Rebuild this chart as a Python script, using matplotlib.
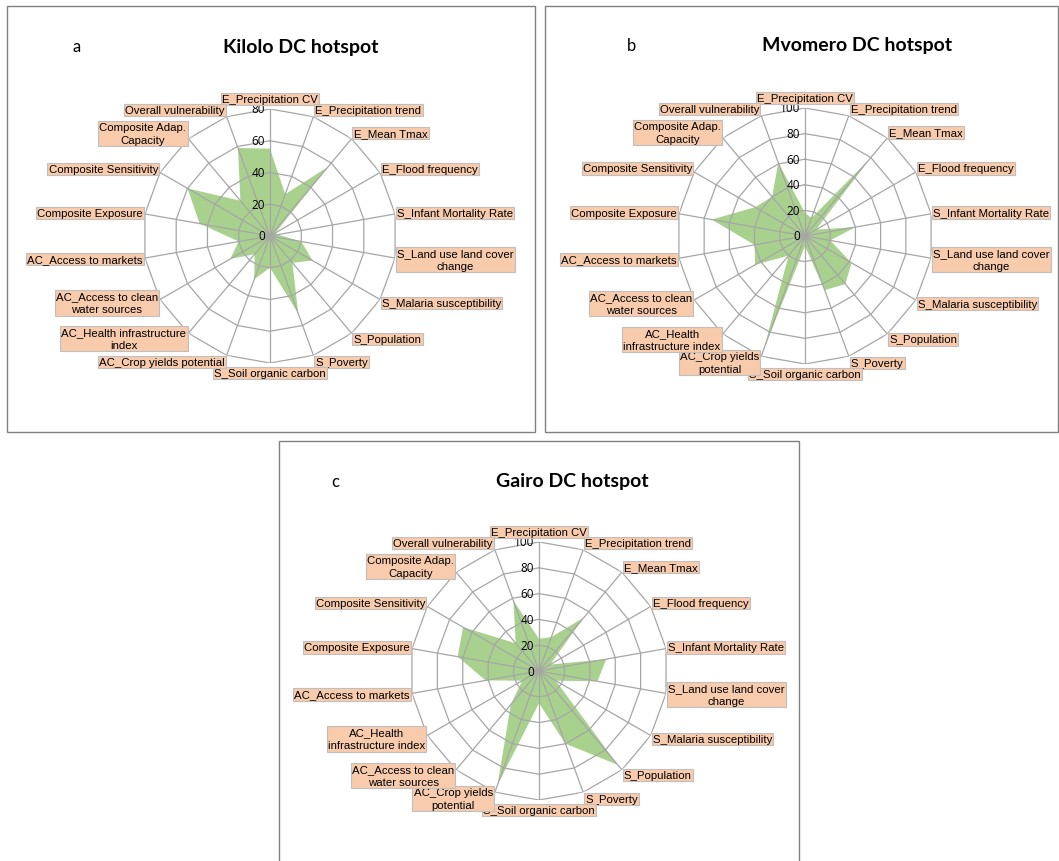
import numpy as np
import matplotlib.pyplot as plt
from matplotlib.patches import Rectangle

# Three radar (spider) charts of vulnerability indicators
W, H = 1059, 862

labels_a = ["E_Precipitation CV", "E_Precipitation trend", "E_Mean Tmax", "E_Flood frequency",
            "S_Infant Mortality Rate", "S_Land use land cover\nchange", "S_Malaria susceptibility",
            "S_Population", "S_Poverty", "S_Soil organic carbon", "AC_Crop yields potential",
            "AC_Health infrastructure\nindex", "AC_Access to clean\nwater sources", "AC_Access to markets",
            "Composite Exposure", "Composite Sensitivity", "Composite Adap.\nCapacity", "Overall vulnerability"]
labels_b = labels_a[:10] + ["AC_Crop yields\npotential", "AC_Health\ninfrastructure index"] + labels_a[12:]
labels_c = labels_a[:10] + ["AC_Crop yields\npotential", "AC_Access to clean\nwater sources",
                            "AC_Health\ninfrastructure index"] + labels_a[13:]

kilolo = [55, 28, 57, 4, 5, 20, 31, 22, 52, 20, 29, 15, 29, 20, 45, 60, 29, 59]
mvomero = [18, 15, 80, 10, 40, 20, 42, 49, 45, 8, 94, 20, 45, 40, 74, 45, 40, 61]
gairo = [25, 28, 54, 10, 53, 46, 15, 95, 60, 25, 94, 34, 15, 42, 64, 68, 28, 58]

GREEN = "#A9D18E"
GRID = "#A6A6A6"
BOX = "#F8CBAD"

fig = plt.figure(figsize=(W / 100, H / 100), dpi=100)


def panel(x0, y0, x1, y1):
    fig.add_artist(Rectangle((x0 / W, 1 - y1 / H), (x1 - x0) / W, (y1 - y0) / H,
                             transform=fig.transFigure, fill=False, ec="#808080", lw=1))


def radar(cx, cy, R, values, labels, rmax, title, letter, tx, lx, ty):
    ax = fig.add_axes([(cx - R) / W, 1 - (cy + R) / H, 2 * R / W, 2 * R / H], projection="polar")
    ax.set_theta_zero_location("N")
    ax.set_theta_direction(-1)
    ax.set_ylim(0, rmax)
    ax.grid(False)
    ax.set_xticks([])
    ax.set_yticks([])
    ax.spines["polar"].set_visible(False)
    ax.patch.set_alpha(0)

    n = len(values)
    theta = np.deg2rad(np.arange(n) * 360 / n)
    tc = np.append(theta, theta[0])
    ax.fill(tc, values + values[:1], color=GREEN, lw=0, zorder=1)

    # polygon rings and spokes
    for r in range(20, rmax + 1, 20):
        ax.plot(tc, [r] * (n + 1), color=GRID, lw=0.9, zorder=2)
    for t in theta:
        ax.plot([t, t], [0, rmax], color=GRID, lw=0.9, zorder=2)

    for r in range(0, rmax + 1, 20):
        ax.annotate(str(r), xy=(0, r), xytext=(-5, 0), textcoords="offset pixels",
                    ha="right", va="center", fontsize=8.5, family="Open Sans", zorder=3)

    for t, lab in zip(theta, labels):
        deg = np.rad2deg(t)
        if deg == 0:
            ha, va, off = "center", "bottom", (0, 5)
        elif deg == 180:
            ha, va, off = "center", "top", (0, -5)
        elif deg < 180:
            ha, va, off = "left", "center", (2, 7 * np.cos(t))
        else:
            ha, va, off = "right", "center", (-2, 7 * np.cos(t))
        ax.annotate(lab, xy=(t, rmax), xytext=off, textcoords="offset pixels", ha=ha, va=va,
                    multialignment="center", linespacing=1.35, fontsize=8.2,
                    family="Liberation Sans", annotation_clip=False,
                    bbox=dict(boxstyle="square,pad=0.1", fc=BOX, ec="#BFBFBF", lw=0.8))

    fig.text(tx / W, 1 - ty / H, title, ha="center", va="center", fontsize=14,
             fontweight="bold", family="Lato")
    fig.text(lx / W, 1 - ty / H, letter, ha="center", va="center", fontsize=12, family="Lato")


panel(7, 7, 535, 433)
panel(545, 7, 1058, 433)
panel(279, 442, 799, 870)

radar(270, 237, 127, kilolo, labels_a, 80, "Kilolo DC hotspot", "a", 301, 77, 47)
radar(805, 237, 128, mvomero, labels_b, 100, "Mvomero DC hotspot", "b", 857, 632, 46)
radar(539, 672, 129, gairo, labels_c, 100, "Gairo DC hotspot", "c", 572, 335, 482)

plt.savefig("out.png", dpi=100)
